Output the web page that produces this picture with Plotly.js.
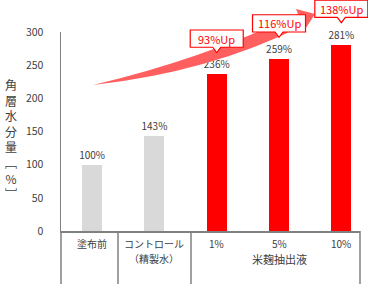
<!DOCTYPE html>
<html><head><meta charset="utf-8">
<script src="https://cdn.plot.ly/plotly-3.0.1.min.js"></script>
<style>html,body{margin:0;padding:0;background:#fff}#c{width:368px;height:285px}</style>
</head><body><div id="c"></div>
<script>
const categories = ["塗布前", "コントロール（精製水）", "1%", "5%", "10%"];
const tickLines = [["塗布前"], ["コントロール", "（精製水）"], ["1%"], ["5%"], ["10%"]];
const values = [100, 143, 236, 259, 281];
const barColors = ["#d9d9d9", "#d9d9d9", "#ff0000", "#ff0000", "#ff0000"];
const upLabels = ["", "", "93%Up", "116%Up", "138%Up"];
const groupLabel = "米麹抽出液";
const yTicks = [0, 50, 100, 150, 200, 250, 300];

const W = 368, H = 285, ML = 61, MR = 8, MT = 32, MB = 54;
const PW = W - ML - MR, PH = H - MT - MB;
const xr = [-0.5, 4.3], yr = [0, 300];
const xp = i => (i - xr[0]) / (xr[1] - xr[0]);
const yp = v => (v - yr[0]) / (yr[1] - yr[0]);
const pxX = px => (px - ML) / PW;
const pxY = py => (H - MB - py) / PH;

const shapes = [];
function P(x, y) { return pxX(x).toFixed(4) + "," + pxY(y).toFixed(4); }
const arrowPath = "M" + P(93, 85) + " Q" + P(200, 60) + " " + P(298, 14) +
  " L" + P(296, 9) + " L" + P(315, 14) + " L" + P(304, 31) + " L" + P(302, 26) +
  " Q" + P(210, 72) + " " + P(93, 85) + " Z";
shapes.push({type: "path", xref: "paper", yref: "paper", path: arrowPath,
  fillcolor: "#ff5f5f", line: {width: 0}});

const annotations = [];
values.forEach((v, i) => {
  if (!upLabels[i]) return;
  const cx = xp(i), hw = 26.5 / PW, pw = 4 / PW;
  const tip = yp(v + 33), bot = yp(v + 41), top = yp(v + 67);
  const f = n => n.toFixed(4);
  const path = "M" + f(cx - hw) + "," + f(top) + " L" + f(cx + hw) + "," + f(top) +
    " L" + f(cx + hw) + "," + f(bot) + " L" + f(cx + pw) + "," + f(bot) +
    " L" + f(cx) + "," + f(tip) + " L" + f(cx - pw) + "," + f(bot) +
    " L" + f(cx - hw) + "," + f(bot) + " Z";
  shapes.push({type: "path", xref: "paper", yref: "paper", path: path,
    fillcolor: "#ffffff", line: {color: "#ff0000", width: 1.2}});
  annotations.push({xref: "paper", yref: "paper", x: cx, y: yp(v + 54), text: upLabels[i],
    showarrow: false, font: {family: "Noto Sans CJK JP", size: 11, color: "#ff0000"},
    xanchor: "center", yanchor: "middle"});
});

[61, 118, 191, 360].forEach(px => {
  shapes.push({type: "line", xref: "paper", yref: "paper", x0: pxX(px), x1: pxX(px),
    y0: 0, y1: pxY(284), line: {color: "#808080", width: 1.5}});
});

tickLines.forEach((lines, i) => {
  lines.forEach((t, k) => {
    annotations.push({xref: "paper", yref: "paper", x: xp(i), y: pxY(243 + 15 * k), text: t,
      showarrow: false, font: {family: "Noto Sans CJK JP", size: 10, color: "#404040"},
      xanchor: "center", yanchor: "middle", borderpad: 0});
  });
});

annotations.push({xref: "paper", yref: "paper", x: xp(3), y: pxY(259), text: groupLabel,
  showarrow: false, font: {family: "Noto Sans CJK JP", size: 11, color: "#404040"},
  xanchor: "center", yanchor: "middle", borderpad: 0});

annotations.push({xref: "paper", yref: "paper", x: pxX(11), y: pxY(139),
  text: "角<br>層<br>水<br>分<br>量<br>﹇<br>%<br>﹈", showarrow: false,
  font: {family: "Noto Sans CJK JP", size: 12, color: "#404040"},
  xanchor: "center", yanchor: "middle", align: "center"});

const trace = {
  type: "bar", x: categories, y: values,
  marker: {color: barColors}, width: 0.32,
  text: values.map(v => v + "%"), textposition: "outside", cliponaxis: false,
  constraintext: "none",
  textfont: {family: "Noto Sans CJK JP", size: 10, color: "#404040"},
  hoverinfo: "none"
};

const layout = {
  width: W, height: H, margin: {l: ML, r: MR, t: MT, b: MB},
  paper_bgcolor: "#fff", plot_bgcolor: "#fff", showlegend: false,
  font: {family: "Noto Sans CJK JP", color: "#404040"},
  bargap: 0,
  xaxis: {type: "category", range: xr, showgrid: false, showline: true, linecolor: "#808080",
    linewidth: 1.5, ticks: "", showticklabels: false, zeroline: false, fixedrange: true},
  yaxis: {range: yr, tickvals: yTicks, showgrid: false, showline: true, linecolor: "#808080",
    linewidth: 1.5, ticks: "", tickfont: {size: 10.5, color: "#404040"}, ticklabelstandoff: 14,
    zeroline: false, fixedrange: true},
  shapes: shapes, annotations: annotations
};

Plotly.newPlot("c", [trace], layout, {staticPlot: true, displayModeBar: false});
</script></body></html>
